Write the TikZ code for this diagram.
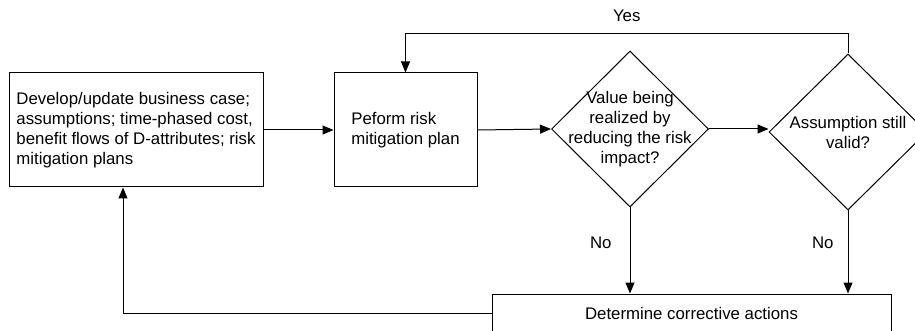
\documentclass[tikz,border=0pt]{standalone}
\usepackage{fontspec}
\setmainfont{Liberation Sans}
\usetikzlibrary{shapes,arrows.meta,positioning,calc}

\begin{document}
\begin{tikzpicture}[
    x=0.5pt, y=-0.5pt,
    line width=0.5pt,
    font=\fontsize{8.4}{10}\selectfont,
    box/.style={rectangle, draw, align=left, minimum height=57pt},
    dec/.style={diamond, draw, inner sep=0pt, minimum width=78.5pt, minimum height=78pt},
    arrow/.style={-{Triangle[length=5.5pt,width=4.5pt]}},
    lbl/.style={inner sep=0pt}
]
    \useasboundingbox (0,0) rectangle (915,331);

    \node[box, minimum width=127pt] (dev) at (136,130)
        {Develop/update business case;\\assumptions; time-phased cost,\\benefit flows of D-attributes; risk\\mitigation plans};
    \node[box, minimum width=71.5pt] (perf) at (405.5,130) {Peform risk\\mitigation plan};
    \node[dec, label={[lbl, align=center]center:Value being\\realized by\\reducing the risk\\impact?}] (value) at (630,129) {};
    \node[dec, minimum width=79pt, label={[lbl, align=center]center:Assumption still\\valid?}] (assume) at (848,132) {};
    \node[box, align=center, minimum width=199.5pt, minimum height=19pt] (fix) at (691.5,313) {Determine corrective actions};

    \draw[arrow] (dev) -- (perf);
    \draw[arrow] (perf.east) -- (value.west);
    \draw[arrow] (value.east) -- (value.east -| assume.west);
    \draw[arrow] (assume.north) -- ++(0,-20) -| (perf.north)
        node[lbl, pos=0.25, above=5.5pt] {Yes};
    \draw[arrow] (value.south) -- (value.south |- fix.north)
        node[lbl, pos=0.41, left=9pt] {No};
    \draw[arrow] (assume.south) -- (assume.south |- fix.north)
        node[lbl, pos=0.39, left=7pt] {No};
    \draw[arrow] (fix.west) -| ([xshift=-6.5pt]dev.south);
\end{tikzpicture}
\end{document}
